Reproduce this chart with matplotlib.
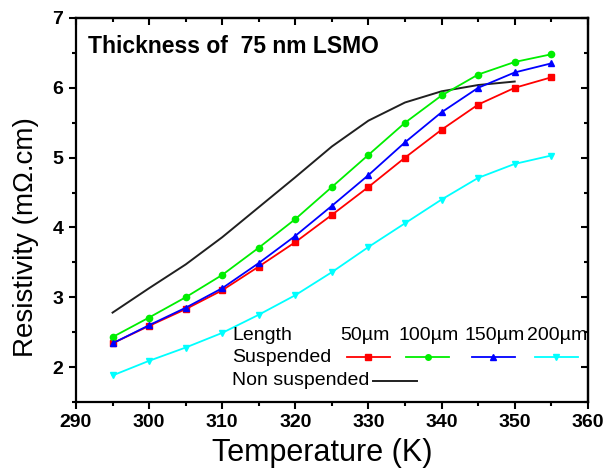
import matplotlib
matplotlib.use("Agg")
import matplotlib.pyplot as plt
from matplotlib.ticker import MultipleLocator

plt.rcParams['font.family'] = ['Liberation Sans', 'DejaVu Sans']

temp = [295, 300, 305, 310, 315, 320, 325, 330, 335, 340, 345, 350, 355]
rho_50 = [2.34, 2.59, 2.83, 3.10, 3.44, 3.79, 4.18, 4.58, 5.00, 5.40, 5.76, 6.00, 6.15]
rho_100 = [2.43, 2.71, 3.00, 3.32, 3.71, 4.12, 4.58, 5.04, 5.50, 5.89, 6.19, 6.37, 6.48]
rho_150 = [2.34, 2.60, 2.85, 3.13, 3.49, 3.88, 4.31, 4.75, 5.22, 5.65, 6.00, 6.22, 6.35]
rho_200 = [1.88, 2.09, 2.28, 2.49, 2.75, 3.03, 3.36, 3.72, 4.06, 4.40, 4.71, 4.91, 5.03]
temp_ns = [295, 300, 305, 310, 315, 320, 325, 330, 335, 340, 345, 350]
rho_ns = [2.78, 3.13, 3.47, 3.86, 4.29, 4.72, 5.16, 5.53, 5.79, 5.95, 6.04, 6.09]

x_ticks = [290, 300, 310, 320, 330, 340, 350, 360]
y_ticks = [2, 3, 4, 5, 6, 7]

lengths = ['50µm', '100µm', '150µm', '200µm']
colors = ['#ff0000', '#00ee00', '#0000ff', '#00ffff']
markers = ['s', 'o', '^', 'v']
series = [rho_50, rho_100, rho_150, rho_200]

fig = plt.figure(figsize=(6.06, 4.71), dpi=100)
ax = fig.add_axes([0.1254, 0.1465, 0.8446, 0.8153])

ax.plot(temp_ns, rho_ns, color='#202020', lw=1.4)
for ys, c, m in zip(series, colors, markers):
    ax.plot(temp, ys, color=c, marker=m, ms=4.5, lw=1.3)

ax.set_xlim(290, 360)
ax.set_ylim(1.5, 7)
ax.set_xticks(x_ticks)
ax.set_yticks(y_ticks)
ax.xaxis.set_minor_locator(MultipleLocator(5))
ax.yaxis.set_minor_locator(MultipleLocator(0.5))

for s in ax.spines.values():
    s.set_linewidth(1.6)
ax.tick_params(which='both', direction='out', top=False, right=False, width=1.5)
ax.tick_params(which='major', length=5, pad=4, labelsize=14)
ax.tick_params(which='minor', length=3)

# inward ticks on top and right
sec_x = ax.secondary_xaxis('top')
sec_x.set_xticks(x_ticks)
sec_x.xaxis.set_minor_locator(MultipleLocator(5))
sec_x.tick_params(which='both', direction='in', labeltop=False, width=1.5)
sec_x.tick_params(which='major', length=5)
sec_x.tick_params(which='minor', length=3)
sec_y = ax.secondary_yaxis('right')
sec_y.set_yticks(y_ticks)
sec_y.yaxis.set_minor_locator(MultipleLocator(0.5))
sec_y.tick_params(which='both', direction='in', labelright=False, width=1.5)
sec_y.tick_params(which='major', length=5)
sec_y.tick_params(which='minor', length=3)
for s in list(sec_x.spines.values()) + list(sec_y.spines.values()):
    s.set_linewidth(1.6)

ax.set_xlabel('Temperature (K)', fontsize=22)
ax.set_ylabel('Resistivity (mΩ.cm)', fontsize=20)
ax.xaxis.set_label_coords(0.482, -0.095)
ax.yaxis.set_label_coords(-0.072, 0.43)

ax.text(0.023, 0.925, 'Thickness of  75 nm LSMO', transform=ax.transAxes,
        fontsize=16.5, fontweight='bold', va='center')

# hand-made legend
lx = 0.305
fs = 14
ax.text(lx, 0.174, 'Length', transform=ax.transAxes, fontsize=fs, va='center')
ax.text(lx, 0.117, 'Suspended', transform=ax.transAxes, fontsize=fs, va='center')
ax.text(lx, 0.055, 'Non suspended', transform=ax.transAxes, fontsize=fs, va='center')
col_x = [0.564, 0.688, 0.818, 0.94]
seg_x = [0.571, 0.687, 0.815, 0.938]
for cx, sx, name, c, m in zip(col_x, seg_x, lengths, colors, markers):
    ax.text(cx, 0.174, name, transform=ax.transAxes, fontsize=fs,
            va='center', ha='center')
    ax.plot([sx - 0.042, sx + 0.042], [0.117, 0.117], transform=ax.transAxes,
            color=c, lw=1.3, clip_on=False)
    ax.plot([sx], [0.117], transform=ax.transAxes, color=c, marker=m, ms=4,
            clip_on=False)
ax.plot([0.58, 0.666], [0.055, 0.055], transform=ax.transAxes,
        color='#202020', lw=1.4, clip_on=False)

# bold tick labels, once the ticks exist
fig.canvas.draw()
for lab in ax.get_xticklabels() + ax.get_yticklabels():
    lab.set_fontweight('bold')

fig.savefig('out.png', dpi=100)
